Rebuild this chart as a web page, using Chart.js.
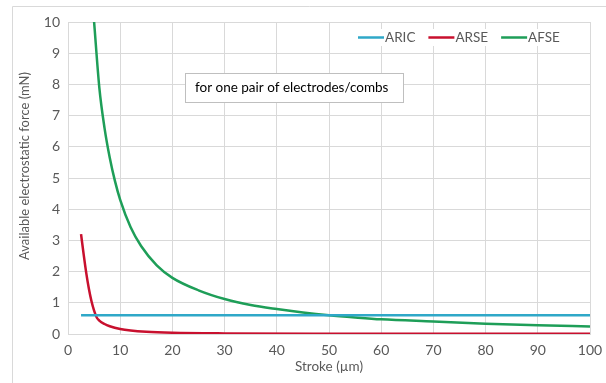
<!DOCTYPE html>
<html>
<head>
<meta charset="utf-8">
<script src="https://cdn.jsdelivr.net/npm/chart.js@4.4.0/dist/chart.umd.min.js"></script>
<style>
  html, body { margin: 0; padding: 0; background: #fff; }
  #wrap { position: relative; width: 606px; height: 383px; }
</style>
</head>
<body>
<div id="wrap"><canvas id="forceChart" width="606" height="383"></canvas></div>
<script>
// stroke positions (um) and forces (mN)
const strokeARIC = [2.5, 100];
const forceARIC = [0.6, 0.6];

const strokeARSE = [2.5, 3, 3.5, 4, 4.5, 5, 5.5, 6, 7, 8, 10, 12, 15, 20, 30, 50, 70, 100];
const forceARSE = [3.2, 2.55, 1.95, 1.45, 1.05, 0.75, 0.53, 0.43, 0.32, 0.25, 0.16, 0.11, 0.07, 0.04, 0.02, 0.01, 0.008, 0.005];

const strokeAFSE = [5, 6, 7, 8, 9, 10, 12, 14, 17, 20, 25, 30, 35, 40, 45, 50, 55, 60, 70, 80, 90, 100];
const forceAFSE = [10, 7.9, 6.6, 5.65, 4.9, 4.3, 3.42, 2.82, 2.2, 1.8, 1.4, 1.12, 0.93, 0.8, 0.69, 0.6, 0.53, 0.47, 0.4, 0.33, 0.28, 0.24];

const xTicks = [0, 10, 20, 30, 40, 50, 60, 70, 80, 90, 100];
const seriesNames = ['ARIC', 'ARSE', 'AFSE'];
const seriesColors = ['#2fa8c8', '#c8102e', '#1e9e58'];
const noteText = 'for one pair of electrodes/combs';
const yTitle = 'Available electrostatic force (mN)';

const FONT = 'Lato, "Open Sans", sans-serif';
const GREY = '#595959';

function pts(xs, ys) {
    return xs.map((x, i) => ({ x: x, y: ys[i] }));
}

// frame, y title, legend box and the note box
const extrasPlugin = {
    id: 'extras',
    afterDraw(chart) {
        const ctx = chart.ctx;
        ctx.save();
        // outer frame
        ctx.strokeStyle = '#d9d9d9';
        ctx.lineWidth = 1;
        ctx.beginPath();
        ctx.moveTo(12.5, 383);
        ctx.lineTo(12.5, 6.5);
        ctx.lineTo(606, 6.5);
        ctx.stroke();

        // y axis title (sits a bit above plot centre, as in the original)
        ctx.save();
        ctx.translate(25, 166);
        ctx.rotate(-Math.PI / 2);
        ctx.font = '13px ' + FONT;
        ctx.fillStyle = GREY;
        ctx.textAlign = 'center';
        ctx.textBaseline = 'middle';
        ctx.fillText(yTitle, 0, 0);
        ctx.restore();

        // legend inside plot, top right
        ctx.fillStyle = '#fff';
        ctx.fillRect(352, 29, 222, 17);
        ctx.font = '13.5px ' + FONT;
        ctx.textBaseline = 'middle';
        let lx = 358;
        const ly = 37.5;
        seriesNames.forEach((name, i) => {
            ctx.strokeStyle = seriesColors[i];
            ctx.lineWidth = 2.5;
            ctx.beginPath();
            ctx.moveTo(lx, ly);
            ctx.lineTo(lx + 26, ly);
            ctx.stroke();
            ctx.fillStyle = GREY;
            ctx.fillText(name, lx + 27, ly);
            lx += 27 + ctx.measureText(name).width + 13;
        });

        // note box
        ctx.fillStyle = '#fff';
        ctx.fillRect(185, 73, 218, 29);
        ctx.strokeStyle = '#bfbfbf';
        ctx.lineWidth = 1;
        ctx.strokeRect(185.5, 73.5, 218, 29);
        ctx.fillStyle = '#000';
        ctx.font = '13.5px ' + FONT;
        ctx.fillText(noteText, 195, 88);
        ctx.restore();
    }
};

document.addEventListener('DOMContentLoaded', function() {
    const ctx = document.getElementById('forceChart');
    const datasets = [
        pts(strokeARIC, forceARIC),
        pts(strokeARSE, forceARSE),
        pts(strokeAFSE, forceAFSE)
    ].map((data, i) => ({
        label: seriesNames[i],
        data: data,
        showLine: true,
        borderColor: seriesColors[i],
        backgroundColor: seriesColors[i],
        borderWidth: 2.5,
        pointRadius: 0,
        cubicInterpolationMode: 'monotone'
    }));

    new Chart(ctx.getContext('2d'), {
        type: 'scatter',
        data: { datasets: datasets },
        options: {
            responsive: false,
            animation: false,
            layout: { padding: { left: 12, top: 22, right: 16, bottom: 4 } },
            plugins: {
                legend: { display: false },
                tooltip: { enabled: false }
            },
            scales: {
                x: {
                    type: 'linear',
                    min: 0,
                    max: 100,
                    afterBuildTicks: s => { s.ticks = xTicks.map(v => ({ value: v })); },
                    grid: { color: '#d9d9d9', drawTicks: false },
                    border: { color: '#d9d9d9' },
                    ticks: { color: GREY, font: { family: FONT, size: 14 }, padding: 8, maxRotation: 0 },
                    title: { display: true, text: 'Stroke (µm)', color: GREY, font: { family: FONT, size: 13.5 }, padding: { top: 0 } },
                    afterFit: s => { s.height = 45; s.paddingRight = 0; s.paddingLeft = 0; }
                },
                y: {
                    min: 0,
                    max: 10,
                    ticks: { stepSize: 1, color: GREY, font: { family: FONT, size: 14 }, padding: 8 },
                    grid: { color: '#d9d9d9', drawTicks: false },
                    border: { color: '#d9d9d9' },
                    afterFit: s => { s.width = 56; }
                }
            }
        },
        plugins: [extrasPlugin]
    });
});
</script>
</body>
</html>
